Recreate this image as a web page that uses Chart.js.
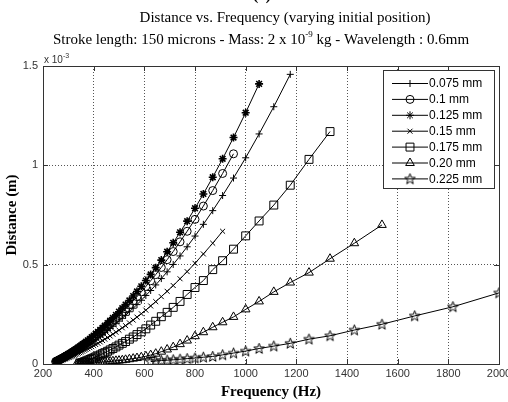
<!DOCTYPE html>
<html>
<head>
<meta charset="utf-8">
<script src="https://cdn.jsdelivr.net/npm/chart.js@4.4.1/dist/chart.umd.min.js"></script>
<style>
html, body { margin: 0; padding: 0; background: #fff; }
#wrap { width: 508px; height: 402px; }
</style>
</head>
<body>
<div id="wrap"><canvas id="myChart" width="508" height="402"></canvas></div>
<script>

// frequency samples (Hz), shared by all curves
var freqHz = [250, 253, 256, 260, 263, 267, 270, 274, 278, 282, 286, 290, 294, 299, 303, 308, 313, 317, 323, 328,
    333, 339, 345, 351, 357, 364, 370, 377, 385, 392, 400, 408, 417, 426, 435, 444, 455, 465, 476, 488,
    500, 513, 526, 541, 556, 571, 588, 606, 625, 645, 667, 690, 714, 741, 769, 800, 833, 870, 909, 952,
    1000, 1053, 1111, 1176, 1250, 1333, 1429, 1538, 1667, 1818, 2000];

var seriesLabels = ['0.075 mm', '0.1 mm', '0.125 mm', '0.15 mm', '0.175 mm', '0.20 mm', '0.225 mm'];
// index into freqHz of each curve's first point
var firstIdx = [0, 0, 0, 0, 22, 20, 48];

// distance, x 10^-3 m
var d075 = [0.011, 0.012, 0.014, 0.016, 0.018, 0.020, 0.022, 0.024, 0.027, 0.029,
    0.032, 0.034, 0.037, 0.040, 0.043, 0.046, 0.049, 0.052, 0.056, 0.060,
    0.064, 0.068, 0.072, 0.077, 0.082, 0.087, 0.092, 0.098, 0.104, 0.110,
    0.117, 0.124, 0.133, 0.141, 0.149, 0.158, 0.169, 0.179, 0.190, 0.203,
    0.216, 0.230, 0.245, 0.263, 0.281, 0.299, 0.321, 0.345, 0.370, 0.398,
    0.430, 0.464, 0.501, 0.544, 0.590, 0.644, 0.703, 0.772, 0.848, 0.936,
    1.038, 1.158, 1.295, 1.458];
var d100 = [0.012, 0.014, 0.016, 0.018, 0.020, 0.023, 0.025, 0.027, 0.030, 0.033,
    0.036, 0.039, 0.042, 0.045, 0.048, 0.052, 0.056, 0.059, 0.064, 0.068,
    0.072, 0.077, 0.082, 0.087, 0.092, 0.099, 0.104, 0.111, 0.118, 0.125,
    0.133, 0.141, 0.150, 0.159, 0.169, 0.179, 0.191, 0.202, 0.215, 0.230,
    0.244, 0.261, 0.277, 0.297, 0.318, 0.339, 0.363, 0.390, 0.419, 0.450,
    0.486, 0.525, 0.566, 0.615, 0.668, 0.728, 0.795, 0.873, 0.959, 1.058];
var d125 = [0.013, 0.015, 0.017, 0.020, 0.022, 0.025, 0.027, 0.030, 0.033, 0.036,
    0.039, 0.042, 0.045, 0.049, 0.052, 0.056, 0.060, 0.064, 0.069, 0.073,
    0.077, 0.083, 0.088, 0.094, 0.100, 0.106, 0.112, 0.119, 0.127, 0.135,
    0.143, 0.152, 0.162, 0.172, 0.182, 0.193, 0.206, 0.218, 0.232, 0.247,
    0.263, 0.281, 0.299, 0.320, 0.342, 0.365, 0.391, 0.420, 0.451, 0.485,
    0.523, 0.565, 0.610, 0.663, 0.719, 0.784, 0.856, 0.940, 1.033, 1.140,
    1.265, 1.410];
var d150 = [0.008, 0.010, 0.011, 0.013, 0.014, 0.016, 0.017, 0.019, 0.021, 0.023,
    0.025, 0.027, 0.029, 0.032, 0.034, 0.036, 0.039, 0.041, 0.044, 0.047,
    0.050, 0.054, 0.057, 0.061, 0.064, 0.069, 0.073, 0.077, 0.082, 0.087,
    0.093, 0.098, 0.104, 0.111, 0.118, 0.125, 0.133, 0.141, 0.150, 0.160,
    0.170, 0.182, 0.193, 0.207, 0.221, 0.236, 0.253, 0.271, 0.292, 0.314,
    0.339, 0.366, 0.395, 0.429, 0.465, 0.507, 0.554, 0.608, 0.668];
var d175 = [0.002, 0.005, 0.008, 0.012, 0.015, 0.019, 0.023, 0.027, 0.031, 0.036,
    0.041, 0.046, 0.052, 0.057, 0.064, 0.071, 0.078, 0.086, 0.095, 0.104,
    0.113, 0.125, 0.136, 0.148, 0.162, 0.177, 0.196, 0.215, 0.238, 0.260,
    0.285, 0.315, 0.350, 0.385, 0.420, 0.475, 0.520, 0.578, 0.645, 0.720,
    0.800, 0.900, 1.030, 1.170];
var d200 = [0.002, 0.003, 0.003, 0.004, 0.004, 0.005, 0.005, 0.006, 0.006, 0.007,
    0.007, 0.008, 0.009, 0.009, 0.010, 0.011, 0.012, 0.013, 0.014, 0.016,
    0.017, 0.019, 0.021, 0.024, 0.027, 0.030, 0.034, 0.039, 0.045, 0.052,
    0.062, 0.073, 0.085, 0.100, 0.118, 0.140, 0.160, 0.185, 0.210, 0.237,
    0.275, 0.315, 0.363, 0.410, 0.460, 0.530, 0.608, 0.700];
var d225 = [0.012, 0.015, 0.017, 0.019, 0.021, 0.024, 0.027, 0.030, 0.034, 0.038,
    0.046, 0.055, 0.065, 0.078, 0.090, 0.104, 0.125, 0.142, 0.171, 0.200,
    0.242, 0.288, 0.358];

var allSeries = [d075, d100, d125, d150, d175, d200, d225];

var xTicks = [200, 400, 600, 800, 1000, 1200, 1400, 1600, 1800, 2000];
var yTicks = [0, 0.5, 1, 1.5];

var sansTick = "'Liberation Sans Narrow', 'Liberation Sans', Arial, sans-serif";
var serif = "'Liberation Serif', 'Times New Roman', serif";

// matlab style pentagram marker
function pentagram() {
    var c = document.createElement('canvas');
    c.width = 13; c.height = 13;
    var g = c.getContext('2d');
    g.beginPath();
    for (var i = 0; i < 10; i++) {
        var r = i % 2 ? 2.3 : 5.6;
        var a = -Math.PI / 2 + i * Math.PI / 5;
        var px = 6.5 + r * Math.cos(a), py = 6.8 + r * Math.sin(a);
        if (i) g.lineTo(px, py); else g.moveTo(px, py);
    }
    g.closePath();
    g.strokeStyle = '#000';
    g.lineWidth = 1;
    g.stroke();
    return c;
}

var markers = [
    { style: 'cross', r: 3.5, w: 1 },
    { style: 'circle', r: 4, w: 1 },
    { style: 'star', r: 4, w: 1.6 },
    { style: 'crossRot', r: 3.5, w: 1 },
    { style: 'rect', r: 5.6, w: 1 },
    { style: 'triangle', r: 5, w: 1 },
    { style: pentagram(), r: 5, w: 1 }
];

var datasets = allSeries.map(function (vals, k) {
    return {
        label: seriesLabels[k],
        data: vals.map(function (v, i) { return { x: freqHz[firstIdx[k] + i], y: v }; }),
        borderColor: '#000',
        borderWidth: 1,
        pointStyle: markers[k].style,
        pointRadius: markers[k].r,
        pointBorderWidth: markers[k].w,
        pointBorderColor: '#000',
        pointBackgroundColor: 'rgba(0,0,0,0)',
        fill: false,
        tension: 0
    };
});

// titles, box, inward ticks, legend
var decor = {
    id: 'decor',
    afterDatasetsDraw: function (chart) {
        var ctx = chart.ctx, a = chart.chartArea;
        var xs = chart.scales.x, ys = chart.scales.y;
        ctx.save();

        ctx.strokeStyle = '#333';
        ctx.lineWidth = 1;
        ctx.beginPath();
        xTicks.forEach(function (v) {
            var px = Math.round(xs.getPixelForValue(v)) + 0.5;
            ctx.moveTo(px, a.bottom); ctx.lineTo(px, a.bottom - 5);
            ctx.moveTo(px, a.top); ctx.lineTo(px, a.top + 5);
        });
        yTicks.forEach(function (v) {
            var py = Math.round(ys.getPixelForValue(v)) + 0.5;
            ctx.moveTo(a.left, py); ctx.lineTo(a.left + 5, py);
            ctx.moveTo(a.right, py); ctx.lineTo(a.right - 5, py);
        });
        ctx.stroke();
        ctx.strokeRect(Math.round(a.left) + 0.5, Math.round(a.top) + 0.5,
            Math.round(a.right - a.left), Math.round(a.bottom - a.top));

        // legend
        var lx = 383.5, ly = 70.5, lw = 111, lh = 118;
        ctx.fillStyle = '#fff';
        ctx.fillRect(lx, ly, lw, lh);
        ctx.strokeStyle = '#333';
        ctx.strokeRect(lx, ly, lw, lh);
        ctx.font = "12px 'Liberation Sans', Arial, sans-serif";
        ctx.textBaseline = 'middle';
        ctx.textAlign = 'left';
        chart.data.datasets.forEach(function (ds, i) {
            var y = 83.5 + i * 15.9;
            ctx.strokeStyle = '#000';
            ctx.lineWidth = 1;
            ctx.beginPath();
            ctx.moveTo(392, y); ctx.lineTo(428, y);
            ctx.stroke();
            ctx.fillStyle = 'rgba(0,0,0,0)';
            Chart.helpers.drawPoint(ctx, {
                pointStyle: ds.pointStyle, radius: ds.pointRadius,
                borderWidth: ds.pointBorderWidth, rotation: 0
            }, 410, y);
            ctx.fillStyle = '#000';
            ctx.fillText(ds.label, 429, y + 0.5);
        });

        // titles
        ctx.fillStyle = '#000';
        ctx.textBaseline = 'alphabetic';
        ctx.textAlign = 'center';
        ctx.font = 'bold 15px ' + serif;
        ctx.fillText('(a)', 262, 0);
        ctx.font = '15px ' + serif;
        ctx.fillText('Distance vs. Frequency (varying initial position)', 285, 22);

        var p1 = 'Stroke length: 150 microns - Mass: 2 x 10', sup = '-9', p2 = ' kg - Wavelength : 0.6mm';
        ctx.font = '15px ' + serif;
        var w1 = ctx.measureText(p1).width, w3 = ctx.measureText(p2).width;
        ctx.font = '9px ' + serif;
        var w2 = ctx.measureText(sup).width;
        var x0 = 261 - (w1 + w2 + w3) / 2;
        ctx.textAlign = 'left';
        ctx.font = '15px ' + serif;
        ctx.fillText(p1, x0, 43.5);
        ctx.fillText(p2, x0 + w1 + w2, 43.5);
        ctx.font = '9px ' + serif;
        ctx.fillText(sup, x0 + w1, 37);

        ctx.fillStyle = '#333';
        ctx.font = "10px 'Liberation Sans', Arial, sans-serif";
        ctx.fillText('x 10', 44, 63);
        var wx = ctx.measureText('x 10').width;
        ctx.font = "7px 'Liberation Sans', Arial, sans-serif";
        ctx.fillText('-3', 44 + wx, 58);
        ctx.restore();
    }
};

var ctx = document.getElementById('myChart');

var chart = new Chart(ctx, {
    type: 'line',
    data: { datasets: datasets },
    options: {
        responsive: false,
        animation: false,
        devicePixelRatio: 1,
        events: [],
        layout: { padding: { left: 0, top: 66, right: 9, bottom: 0 } },
        plugins: { legend: { display: false }, tooltip: { enabled: false }, title: { display: false } },
        scales: {
            x: {
                type: 'linear', min: 200, max: 2000,
                afterBuildTicks: function (s) { s.ticks = xTicks.map(function (v) { return { value: v }; }); },
                afterFit: function (s) { s.height = 38; s.paddingLeft = 0; s.paddingRight = 0; },
                ticks: {
                    color: '#333', padding: 3, maxRotation: 0, autoSkip: false,
                    font: { family: sansTick, size: 11 },
                    callback: function (v) { return String(v); }
                },
                grid: { color: '#555', lineWidth: 1, drawTicks: false, borderDash: [1, 2] },
                border: { display: false, dash: [1, 2] },
                title: {
                    display: true, text: 'Frequency (Hz)', color: '#000',
                    font: { family: serif, size: 15, weight: 'bold' },
                    padding: { top: 0, bottom: 1 }
                }
            },
            y: {
                min: 0, max: 1.5,
                afterBuildTicks: function (s) { s.ticks = yTicks.map(function (v) { return { value: v }; }); },
                afterFit: function (s) { s.width = 43; s.paddingTop = 0; s.paddingBottom = 0; },
                ticks: {
                    color: '#333', padding: 5,
                    font: { family: sansTick, size: 11 },
                    callback: function (v) { return String(v); }
                },
                grid: { color: '#555', lineWidth: 1, drawTicks: false, borderDash: [1, 2] },
                border: { display: false, dash: [1, 2] },
                title: {
                    display: true, text: 'Distance (m)', color: '#000',
                    font: { family: serif, size: 15, weight: 'bold' },
                    padding: { top: 3, bottom: 0 }
                }
            }
        }
    },
    plugins: [decor]
});
</script>
</body>
</html>
